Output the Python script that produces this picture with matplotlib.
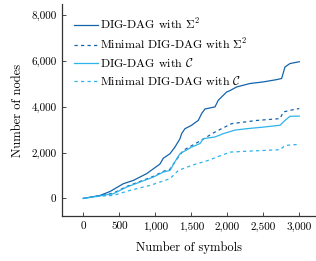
import matplotlib
matplotlib.use('Agg')

import matplotlib.pyplot as plt
from matplotlib.ticker import FuncFormatter

# -------------------
# Data
# -------------------
x_sig2 = [0, 232, 370, 555, 695, 880, 1065, 1111, 1204, 1273, 1343, 1366, 1412, 1505, 1551,
          1597, 1644, 1690, 1829, 1875, 1991, 2037, 2130, 2315, 2500, 2686, 2755, 2801, 2870, 3000]
y_sig2 = [0, 130, 300, 640, 786, 1080, 1500, 1750, 1950, 2240, 2600, 2825, 3040, 3190, 3300,
          3400, 3700, 3900, 3990, 4280, 4640, 4700, 4860, 5010, 5080, 5180, 5230, 5730, 5880, 5960]

x_sig2_min = [0, 232, 417, 602, 787, 972, 1111, 1204, 1273, 1389, 1597, 1829, 2060, 2408,
              2732, 2778, 2870, 3000]
y_sig2_min = [0, 120, 230, 520, 740, 960, 1180, 1270, 1600, 2096, 2460, 2895, 3260, 3400,
              3480, 3770, 3840, 3920]

x_c = [0, 232, 417, 602, 787, 972, 1111, 1204, 1273, 1343, 1505, 1620, 1667, 1829, 1945,
       2107, 2269, 2500, 2732, 2801, 2870, 3000]
y_c = [0, 110, 205, 495, 713, 930, 1150, 1220, 1600, 1950, 2240, 2390, 2605, 2680, 2825,
       2980, 3040, 3110, 3190, 3400, 3580, 3590]

x_c_min = [0, 232, 417, 648, 926, 1134, 1204, 1320, 1505, 1736, 2037, 2315, 2732, 2801, 3000]
y_c_min = [0, 100, 130, 350, 568, 786, 860, 1220, 1440, 1660, 2020, 2065, 2125, 2310, 2360]

labels = [r'DIG-DAG with $\Sigma^2$', r'Minimal DIG-DAG with $\Sigma^2$',
          r'DIG-DAG with $\mathcal{C}$', r'Minimal DIG-DAG with $\mathcal{C}$']

x_ticks = [0, 500, 1000, 1500, 2000, 2500, 3000]
y_ticks = [0, 2000, 4000, 6000, 8000]

dark = '#1363ad'
light = '#2db3ec'

# -------------------
# Style
# -------------------
plt.rcParams['font.family'] = 'serif'
plt.rcParams['font.serif'] = ['cmr10', 'DejaVu Serif']
plt.rcParams['mathtext.fontset'] = 'cm'
plt.rcParams['axes.formatter.use_mathtext'] = True
plt.rcParams['font.size'] = 8

fig = plt.figure(figsize=(3.16, 2.61), dpi=100)
ax = fig.add_axes([0.196, 0.172, 0.804, 0.813])

ax.plot(x_sig2, y_sig2, color=dark, lw=0.9, label=labels[0])
ax.plot(x_sig2_min, y_sig2_min, color=dark, lw=0.9, dashes=(2.6, 2.6), label=labels[1])
ax.plot(x_c, y_c, color=light, lw=0.9, label=labels[2])
ax.plot(x_c_min, y_c_min, color=light, lw=0.9, dashes=(2.6, 2.6), label=labels[3])

ax.set_xlim(-296, 3232)
ax.set_ylim(-770, 8480)
ax.set_xticks(x_ticks)
ax.set_yticks(y_ticks)
fmt = FuncFormatter(lambda v, p: f'{int(v):,}')
ax.xaxis.set_major_formatter(fmt)
ax.yaxis.set_major_formatter(fmt)
ax.tick_params(direction='in', length=3, width=0.5, labelsize=8, pad=4)

for side in ['top', 'right']:
    ax.spines[side].set_visible(False)
for side in ['left', 'bottom']:
    ax.spines[side].set_linewidth(0.9)
    ax.spines[side].set_color('#333333')

ax.set_xlabel('Number of symbols', fontsize=9, labelpad=7)
ax.set_ylabel('Number of nodes', fontsize=9, labelpad=5)

ax.legend(loc='upper left', bbox_to_anchor=(0.019, 0.976), frameon=False, fontsize=8.6,
          handlelength=2.0, handletextpad=0.2, labelspacing=0.42, borderaxespad=0.2)

fig.savefig('out.png', dpi=100)
